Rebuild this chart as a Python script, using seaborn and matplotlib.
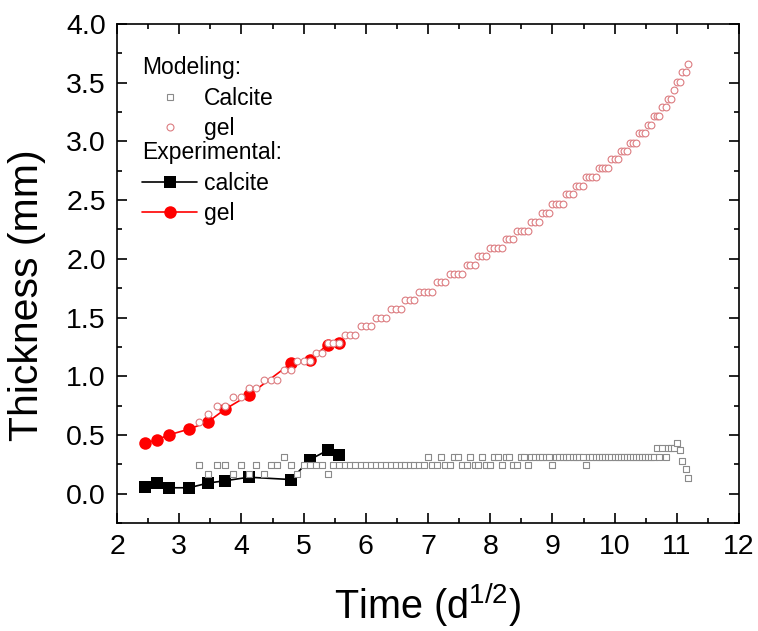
import matplotlib
matplotlib.use("Agg")
import numpy as np
import pandas as pd
import matplotlib.pyplot as plt
import seaborn as sns
from matplotlib.lines import Line2D
from matplotlib.ticker import MultipleLocator

# Modeling: time in d^1/2 (one point per day, day 11 to 125)
t_model = [3.32, 3.46, 3.61, 3.74, 3.87,
           4.00, 4.12, 4.24, 4.36, 4.47, 4.58, 4.69, 4.80, 4.90, 5.00,
           5.10, 5.20, 5.29, 5.39, 5.48, 5.57, 5.66, 5.74, 5.83, 5.92,
           6.00, 6.08, 6.16, 6.24, 6.32, 6.40, 6.48, 6.56, 6.63, 6.71,
           6.78, 6.86, 6.93, 7.00, 7.07, 7.14, 7.21, 7.28, 7.35, 7.42,
           7.48, 7.55, 7.62, 7.68, 7.75, 7.81, 7.87, 7.94, 8.00, 8.06,
           8.12, 8.19, 8.25, 8.31, 8.37, 8.43, 8.49, 8.54, 8.60, 8.66,
           8.72, 8.78, 8.83, 8.89, 8.94, 9.00, 9.06, 9.11, 9.17, 9.22,
           9.27, 9.33, 9.38, 9.43, 9.49, 9.54, 9.59, 9.64, 9.70, 9.75,
           9.80, 9.85, 9.90, 9.95, 10.00, 10.05, 10.10, 10.15, 10.20, 10.25,
           10.30, 10.34, 10.39, 10.44, 10.49, 10.54, 10.58, 10.63, 10.68, 10.72,
           10.77, 10.82, 10.86, 10.91, 10.95, 11.00, 11.05, 11.09, 11.14, 11.18]

gel_model = [0.61, 0.68, 0.75, 0.75, 0.82,
             0.82, 0.90, 0.90, 0.97, 0.97, 0.97, 1.05, 1.05, 1.13, 1.13,
             1.13, 1.20, 1.20, 1.28, 1.28, 1.28, 1.35, 1.35, 1.35, 1.43,
             1.43, 1.43, 1.50, 1.50, 1.50, 1.57, 1.57, 1.57, 1.65, 1.65,
             1.65, 1.72, 1.72, 1.72, 1.72, 1.80, 1.80, 1.80, 1.87, 1.87,
             1.87, 1.87, 1.95, 1.95, 1.95, 2.02, 2.02, 2.02, 2.09, 2.09,
             2.09, 2.09, 2.17, 2.17, 2.17, 2.24, 2.24, 2.24, 2.24, 2.31,
             2.31, 2.31, 2.39, 2.39, 2.39, 2.47, 2.47, 2.47, 2.47, 2.55,
             2.55, 2.55, 2.62, 2.62, 2.62, 2.70, 2.70, 2.70, 2.70, 2.77,
             2.77, 2.77, 2.77, 2.85, 2.85, 2.85, 2.92, 2.92, 2.92, 2.99,
             2.99, 2.99, 3.07, 3.07, 3.07, 3.14, 3.14, 3.22, 3.22, 3.22,
             3.29, 3.29, 3.36, 3.36, 3.44, 3.51, 3.51, 3.59, 3.59, 3.66]

calcite_model = [0.24, 0.17, 0.24, 0.24, 0.17,
                 0.24, 0.17, 0.24, 0.17, 0.24, 0.24, 0.31, 0.24, 0.17, 0.24,
                 0.24, 0.24, 0.24, 0.17, 0.24, 0.24, 0.24, 0.24, 0.24, 0.24,
                 0.24, 0.24, 0.24, 0.24, 0.24, 0.24, 0.24, 0.24, 0.24, 0.24,
                 0.24, 0.24, 0.24, 0.31, 0.24, 0.24, 0.31, 0.24, 0.24, 0.31,
                 0.31, 0.24, 0.24, 0.31, 0.24, 0.24, 0.31, 0.24, 0.24, 0.31,
                 0.31, 0.24, 0.31, 0.31, 0.24, 0.24, 0.31, 0.31, 0.24, 0.31,
                 0.31, 0.31, 0.31, 0.31, 0.31, 0.24, 0.31, 0.31, 0.31, 0.31,
                 0.31, 0.31, 0.31, 0.31, 0.31, 0.24, 0.31, 0.31, 0.31, 0.31,
                 0.31, 0.31, 0.31, 0.31, 0.31, 0.31, 0.31, 0.31, 0.31, 0.31,
                 0.31, 0.31, 0.31, 0.31, 0.31, 0.31, 0.31, 0.31, 0.39, 0.31,
                 0.39, 0.31, 0.39, 0.39, 0.39, 0.43, 0.37, 0.28, 0.21, 0.13]

# Experimental
t_exp = [2.45, 2.65, 2.83, 3.16, 3.46, 3.74, 4.12, 4.80, 5.10, 5.39, 5.57]
gel_exp = [0.43, 0.46, 0.50, 0.55, 0.61, 0.72, 0.84, 1.11, 1.14, 1.27, 1.28]
calcite_exp = [0.06, 0.09, 0.05, 0.05, 0.09, 0.11, 0.14, 0.12, 0.29, 0.37, 0.33]

model = pd.DataFrame({"t": t_model, "gel": gel_model, "calcite": calcite_model})
exp = pd.DataFrame({"t": t_exp, "gel": gel_exp, "calcite": calcite_exp})

sns.set_style("ticks")
plt.rcParams["font.family"] = ["Liberation Sans", "DejaVu Sans"]
plt.rcParams["mathtext.fontset"] = "custom"
plt.rcParams["mathtext.rm"] = "Liberation Sans"
plt.rcParams["mathtext.default"] = "regular"
plt.rcParams["text.color"] = "black"
plt.rcParams["axes.labelcolor"] = "black"

GREY = "#8a8a8a"
PINK = "#dc7c80"
RED = "#ff0000"

fig = plt.figure(figsize=(7.58, 6.31), dpi=100)
ax = fig.add_axes([117 / 758, 1 - 523 / 631, 622 / 758, 499 / 631])

# experimental (lines + filled markers)
sns.lineplot(data=exp, x="t", y="calcite", ax=ax, color="black", lw=1.2,
             marker="s", markersize=8, markeredgewidth=0, errorbar=None, zorder=2)
sns.lineplot(data=exp, x="t", y="gel", ax=ax, color=RED, lw=1.2,
             marker="o", markersize=9, markeredgewidth=0, errorbar=None, zorder=2)

# modeling (open markers on top)
sns.scatterplot(data=model, x="t", y="calcite", ax=ax, marker="s", s=20,
                facecolors="white", edgecolors=GREY, linewidth=0.8, zorder=3)
sns.scatterplot(data=model, x="t", y="gel", ax=ax, marker="o", s=24,
                facecolors="white", edgecolors=PINK, linewidth=0.8, zorder=3)

ax.set_xlim(2, 12)
ax.set_ylim(-0.25, 4.0)
ax.xaxis.set_major_locator(MultipleLocator(1))
ax.xaxis.set_minor_locator(MultipleLocator(0.5))
ax.yaxis.set_major_locator(MultipleLocator(0.5))
ax.yaxis.set_minor_locator(MultipleLocator(0.25))
ax.yaxis.set_major_formatter(matplotlib.ticker.FormatStrFormatter("%.1f"))

for sp in ax.spines.values():
    sp.set_visible(True)
    sp.set_linewidth(1.2)
    sp.set_color("black")
ax.tick_params(which="both", direction="in", top=True, right=True,
               width=1.2, color="black", labelsize=20.5, labelcolor="black")
ax.tick_params(which="major", length=7, pad=8)
ax.tick_params(which="minor", length=3.5)

ax.set_xlabel("Time (d$^{1/2}$)", fontsize=28.5)
ax.set_ylabel("Thickness (mm)", fontsize=29.5)
ax.xaxis.set_label_coords(0.5, -0.115)
ax.yaxis.set_label_coords(-0.145, 0.457)
ax.xaxis.label.set_va("top")
ax.yaxis.label.set_va("center")

# legend: two stacked blocks with left-aligned headers
h_mc = Line2D([], [], ls="", marker="s", ms=4.5, mfc="white", mec=GREY, mew=0.8)
h_mg = Line2D([], [], ls="", marker="o", ms=5, mfc="white", mec=PINK, mew=0.8)
h_ec = Line2D([], [], ls="-", lw=1.2, color="black", marker="s", ms=8, mew=0)
h_eg = Line2D([], [], ls="-", lw=1.2, color=RED, marker="o", ms=9, mew=0)

common = dict(frameon=False, fontsize=16.5, title_fontsize=16.5, alignment="left",
              loc="upper left", bbox_transform=fig.transFigure,
              handlelength=2.4, handletextpad=0.3, labelspacing=0.33,
              borderpad=0, borderaxespad=0)
leg1 = ax.legend([h_mc, h_mg], ["Calcite", "gel"], title="Modeling:",
                 bbox_to_anchor=(142 / 758, 1 - 56 / 631), **common)
ax.add_artist(leg1)
leg2 = ax.legend([h_ec, h_eg], ["calcite", "gel"], title="Experimental:",
                 bbox_to_anchor=(142 / 758, 1 - 141 / 631), **common)

fig.savefig("out.png", dpi=100)
